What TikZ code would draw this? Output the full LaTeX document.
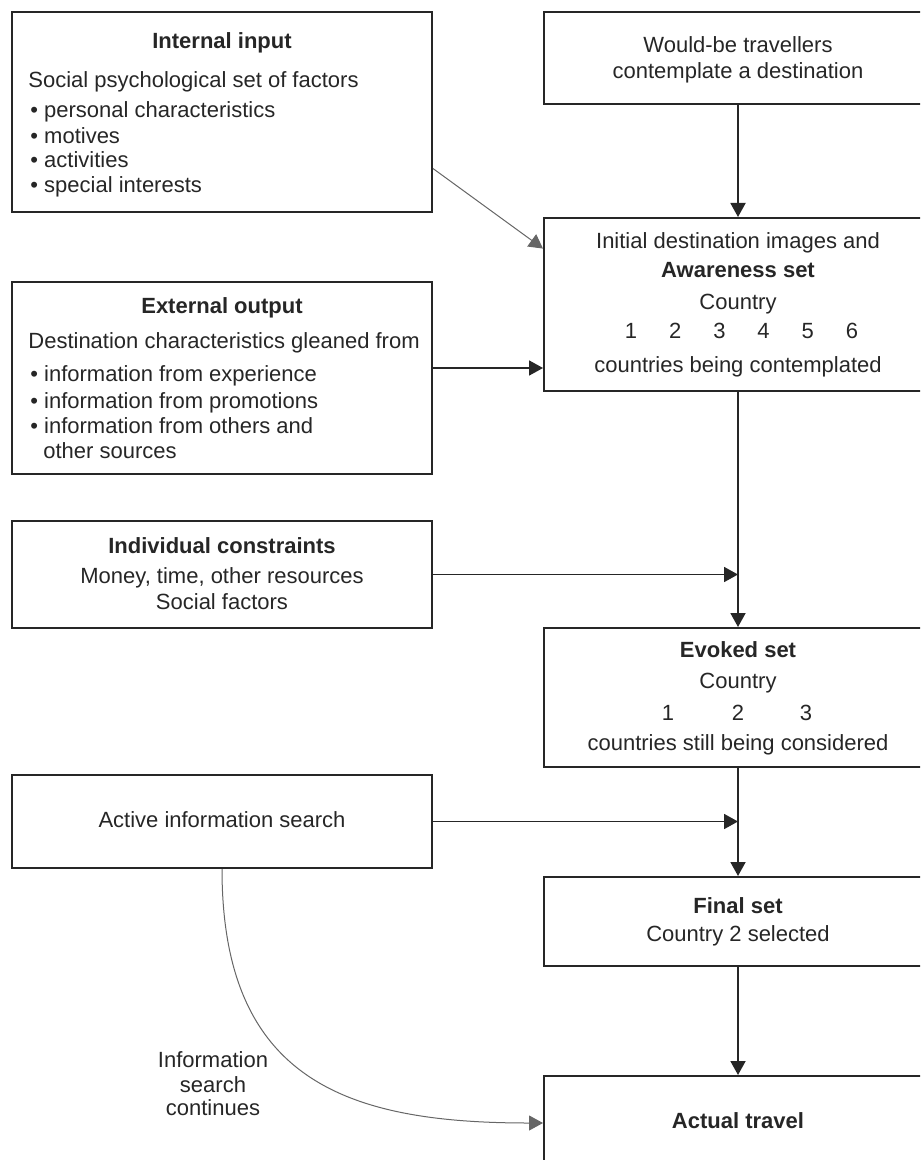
\documentclass[tikz,border=0pt]{standalone}
\usepackage{fontspec}
\setmainfont{Liberation Sans}
\usetikzlibrary{positioning}
\usetikzlibrary{arrows.meta}

\tikzset{
  box/.style={draw=black!85, line width=1pt, inner sep=0pt, minimum width=210pt},
  rbox/.style={box, minimum width=194pt},
  txt/.style={inner sep=0pt, text=black!85, font=\fontsize{11}{12.5}\selectfont, text height=8pt, text depth=2.2pt},
  arr/.style={draw=black!85, line width=0.9pt, -{Triangle[length=7pt,width=7.5pt]}},
  thinarr/.style={draw=black!60, line width=0.5pt, -{Triangle[length=7pt,width=7.5pt]}},
}

\begin{document}
\begin{tikzpicture}[x=0.5pt,y=-0.5pt]
  \useasboundingbox (0,0) rectangle (920,1160);
  \clip (0,0) rectangle (920,1160);

	%left column
    \node[box, minimum height=100pt] (intl) at (222,112) {};
    \node[box, minimum height=96pt] (ext) at (222,378) {};
    \node[box, minimum height=53.5pt] (indiv) at (222,574.5) {};
    \node[box, minimum height=46.5pt] (active) at (222,821.5) {};

	%right column
    \node[rbox, minimum height=46pt] (would) at (738,58) {};
    \node[rbox, minimum height=86.5pt] (aware) at (738,304.5) {};
    \node[rbox, minimum height=69.5pt] (evoked) at (738,697.5) {};
    \node[rbox, minimum height=44.5pt] (final) at (738,921.5) {};
    \node[rbox, minimum height=47pt] (actual) at (738,1123) {};

	%internal input
    \node[txt] (intlT) at (222,43) {\bfseries Internal input};
    \node[txt,anchor=west] (intlS) at (28,82) {Social psychological set of factors};
    \foreach \y/\item in {112/personal characteristics,138/motives,162/activities,187/special interests}{
         \node[txt,anchor=west] (intl\y) at (30,\y) {• \item};
    }

	%external output
    \node[txt] (extT) at (222,308) {\bfseries External output};
    \node[txt,anchor=west] (extS) at (28,343) {Destination characteristics gleaned from};
    \foreach \y/\item in {376/information from experience,403/information from promotions,428/information from others and}{
         \node[txt,anchor=west] (ext\y) at (30,\y) {• \item};
    }
    \node[txt,anchor=west] (ext453) at (43,453) {other sources};

	%constraints, search
    \foreach \y/\line in {548/{\bfseries Individual constraints},578/{Money, time, other resources},604/{Social factors}}{
         \node[txt] (indiv\y) at (222,\y) {\line};
    }
    \node[txt] (activeT) at (222,822) {Active information search};

	%sets
    \foreach \y/\line in {47/{Would-be travellers},73/{contemplate a destination}}{
         \node[txt] (would\y) at (738,\y) {\line};
    }
    \foreach \y/\line in {243/{Initial destination images and},272/{\bfseries Awareness set},304/{Country},367/{countries being contemplated}}{
         \node[txt] (aware\y) at (738,\y) {\line};
    }
    \foreach \i in {1,...,6}{
         \node[txt] (awareN\i) at (631+44.2*\i-44.2,333) {\i};
    }
    \foreach \y/\line in {652/{\bfseries Evoked set},683/{Country},745/{countries still being considered}}{
         \node[txt] (evoked\y) at (738,\y) {\line};
    }
    \foreach \i/\x in {1/668,2/738,3/806}{
         \node[txt] (evokedN\i) at (\x,715) {\i};
    }
    \node[txt] (finalT) at (738,908) {\bfseries Final set};
    \node[txt] (finalS) at (738,936) {Country 2 selected};
    \node[txt] (actualT) at (738,1123) {\bfseries Actual travel};

	%arrows
    \draw[arr] (would) -- (aware);
    \draw[thinarr] (intl.-15) -- (aware.164);
    \draw[arr] ([yshift=5pt]ext.east) -- ([yshift=5pt]ext.east -| aware.west);
    \draw[arr] (aware) -- (evoked);
    \draw[arr] (indiv.east) -- (indiv.east -| aware.south);
    \draw[arr] (evoked) -- (final);
    \draw[arr] (active.east) -- (active.east -| evoked.south);
    \draw[arr] (final) -- (actual);
    \draw[thinarr] (active.south) .. controls +(0,213) and +(-194,0) .. (actual.west);

    \foreach \y/\line in {1062/Information,1087/search,1110/continues}{
         \node[txt] (cont\y) at (213,\y) {\line};
    }

\end{tikzpicture}
\end{document}
